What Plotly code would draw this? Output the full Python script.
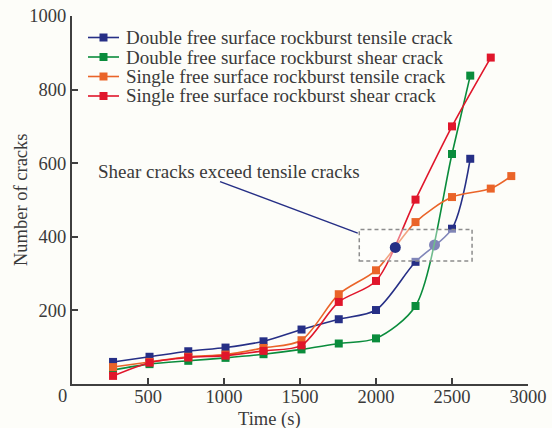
import plotly.graph_objects as go

# ---- data -------------------------------------------------------------
time_double = [270, 510, 765, 1010, 1260, 1510, 1755, 2000, 2260, 2500, 2620]
double_tensile = [60, 74, 89, 99, 116, 148, 176, 201, 332, 422, 612]
double_shear = [38, 54, 63, 71, 81, 94, 110, 124, 212, 625, 838]

time_single_tensile = [270, 510, 765, 1010, 1260, 1510, 1755, 2000, 2260, 2500, 2755, 2890]
single_tensile = [46, 60, 74, 80, 98, 119, 244, 309, 440, 508, 531, 565]

time_single_shear = [270, 510, 765, 1010, 1260, 1510, 1755, 2000, 2260, 2500, 2755]
single_shear = [22, 58, 72, 77, 90, 105, 223, 280, 501, 700, 887]

# points where shear crack counts overtake tensile crack counts
cross_single = (2127, 371)
cross_double = (2385, 378)

# highlighted region and its callout
box_x = [1890, 2632]
box_y = [334, 420]
callout_start = (974, 550)
callout_text = "Shear cracks exceed tensile cracks"

series_names = [
    "Double free surface rockburst tensile crack",
    "Double free surface rockburst shear crack",
    "Single free surface rockburst tensile crack",
    "Single free surface rockburst shear crack",
]
x_ticks = [500, 1000, 1500, 2000, 2500, 3000]
y_ticks = [200, 400, 600, 800, 1000]

# ---- styling ----------------------------------------------------------
NAVY = "#262f86"
GREEN = "#0a8c3c"
ORANGE = "#ea6429"
RED = "#e0162b"
TEXT = "#3a3a3a"
AXIS = "#3f3f3f"
BG = "#fdfdf9"
FONT = "Liberation Serif"

W, H = 552, 428
L, R, T, B = 72, 528, 16, 384   # plot area in pixels


def px_x(px):
    return (px - L) / (R - L)


def px_y(py):
    return (B - py) / (B - T)


fig = go.Figure()

series = [
    (time_double, double_tensile, NAVY),
    (time_double, double_shear, GREEN),
    (time_single_tensile, single_tensile, ORANGE),
    (time_single_shear, single_shear, RED),
]

# lighter crossing marker sits under the translucent highlight box
fig.add_trace(go.Scatter(
    x=[cross_double[0]], y=[cross_double[1]], mode="markers",
    marker=dict(symbol="circle", size=11, color=NAVY), showlegend=False,
    hoverinfo="skip",
))

for (xs, ys, col), name in zip(series, series_names):
    fig.add_trace(go.Scatter(
        x=xs, y=ys, name=name, mode="lines+markers",
        line=dict(color=col, width=1.6, shape="spline", smoothing=0.8),
        marker=dict(symbol="square", size=8, color=col),
        showlegend=False,
    ))

shapes = [
    # translucent highlight box
    dict(type="rect", xref="x", yref="y", x0=box_x[0], x1=box_x[1],
         y0=box_y[0], y1=box_y[1], layer="above",
         fillcolor="rgba(255,255,255,0.42)",
         line=dict(color="#8c8c8c", width=1.5, dash="4px,3px")),
    # callout leader
    dict(type="line", xref="x", yref="y", x0=callout_start[0],
         y0=callout_start[1], x1=box_x[0] - 10, y1=box_y[1] - 10,
         layer="above", line=dict(color=NAVY, width=1.5)),
    # crossing marker above the box
    dict(type="circle", xref="x", yref="y", xsizemode="pixel",
         ysizemode="pixel", xanchor=cross_single[0], yanchor=cross_single[1],
         x0=-5.5, x1=5.5, y0=-5.5, y1=5.5, layer="above",
         fillcolor=NAVY, line=dict(color=NAVY, width=0)),
]

annotations = []

# hand-drawn legend
legend_rows = [37.5, 57, 76.5, 96]
for (xs, ys, col), name, ry in zip(series, series_names, legend_rows):
    shapes.append(dict(type="line", xref="paper", yref="paper",
                       x0=px_x(88), x1=px_x(119), y0=px_y(ry), y1=px_y(ry),
                       line=dict(color=col, width=1.6)))
    shapes.append(dict(type="rect", xref="paper", yref="paper",
                       xsizemode="pixel", ysizemode="pixel",
                       xanchor=px_x(103.5), yanchor=px_y(ry),
                       x0=-4, x1=4, y0=-4, y1=4,
                       fillcolor=col, line=dict(width=0)))
    annotations.append(dict(xref="paper", yref="paper", x=px_x(124),
                            y=px_y(ry), xanchor="left", yanchor="middle",
                            text=name, showarrow=False,
                            font=dict(family=FONT, size=19, color=TEXT)))

annotations += [
    dict(xref="paper", yref="paper", x=px_x(96), y=px_y(171),
         xanchor="left", yanchor="middle", text=callout_text,
         showarrow=False, font=dict(family=FONT, size=19, color=TEXT)),
    dict(xref="paper", yref="paper", x=px_x(269), y=px_y(419),
         xanchor="center", yanchor="middle", text="Time (s)",
         showarrow=False, font=dict(family=FONT, size=18.5, color=TEXT)),
    dict(xref="paper", yref="paper", x=px_x(21), y=px_y(200),
         xanchor="center", yanchor="middle", text="Number of cracks",
         textangle=-90, showarrow=False,
         font=dict(family=FONT, size=18.5, color=TEXT)),
    dict(xref="paper", yref="paper", x=px_x(62), y=px_y(396),
         xanchor="center", yanchor="middle", text="0",
         showarrow=False, font=dict(family=FONT, size=18.5, color=TEXT)),
]

fig.update_layout(
    width=W, height=H,
    margin=dict(l=L, r=W - R, t=T, b=H - B, pad=0),
    paper_bgcolor=BG, plot_bgcolor=BG,
    font=dict(family=FONT, size=18.5, color=TEXT),
    shapes=shapes, annotations=annotations,
    showlegend=False,
    xaxis=dict(range=[0, 3000], tickvals=x_ticks, ticks="inside",
               ticklen=6, tickwidth=1.5, tickcolor=AXIS, showline=True,
               linecolor=AXIS, linewidth=2, showgrid=False, zeroline=False,
               automargin=False, ticklabelstandoff=-5,
               tickfont=dict(size=18.5, color=TEXT)),
    yaxis=dict(range=[0, 1000], tickvals=y_ticks, ticks="inside",
               ticklen=6, tickwidth=1.5, tickcolor=AXIS, showline=True,
               linecolor=AXIS, linewidth=2, showgrid=False, zeroline=False,
               automargin=False, tickfont=dict(size=18.5, color=TEXT)),
)

fig.write_html("out.html")
